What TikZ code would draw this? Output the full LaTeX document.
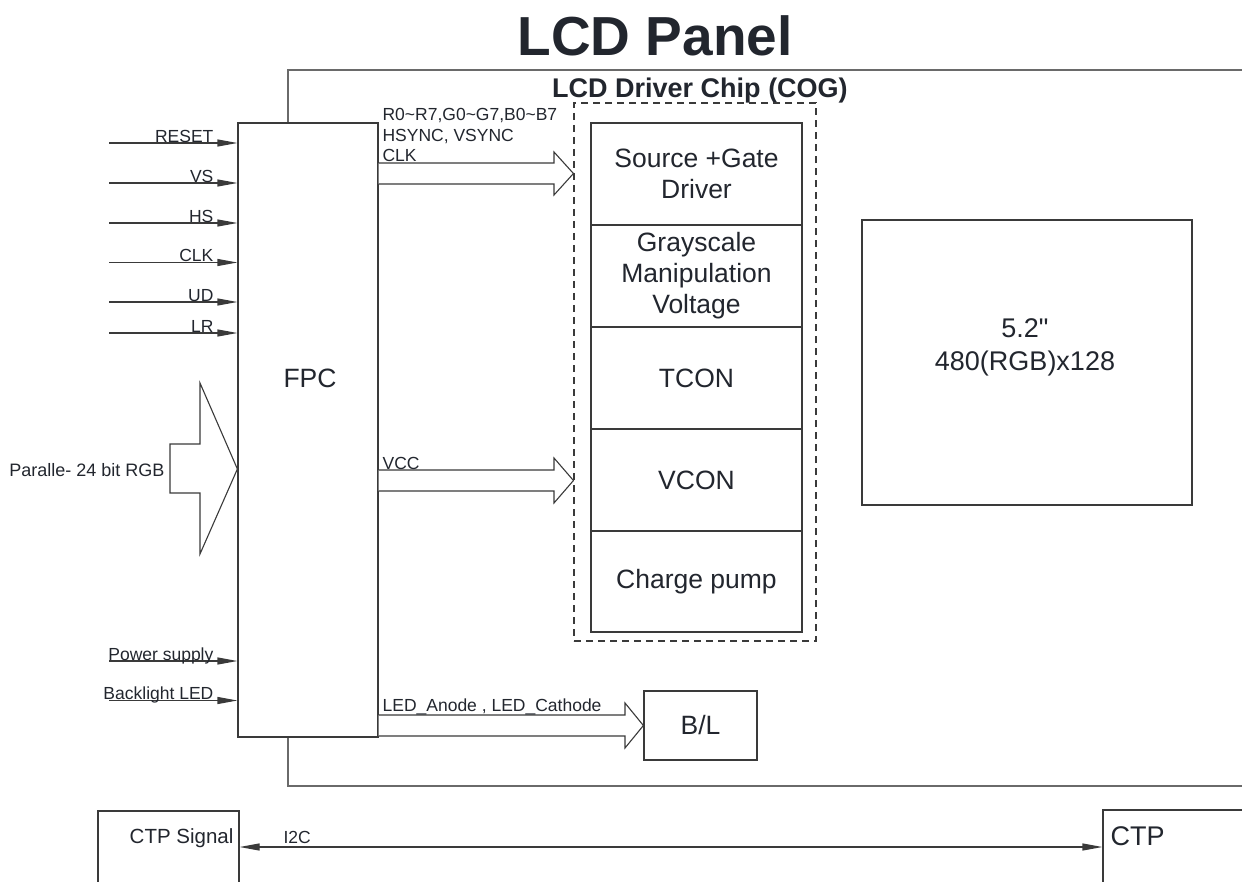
\documentclass[tikz,border=0pt]{standalone}
\usepackage{fontspec}
\setmainfont{Liberation Sans}[Ligatures=TeXOff]
\usetikzlibrary{arrows.meta}
\definecolor{txt}{HTML}{22262E}
\definecolor{ln}{HTML}{3A3A3A}
\definecolor{frm}{HTML}{6A6A6A}
\begin{document}
\begin{tikzpicture}[x=1bp,y=-1bp, line width=1.2bp, color=ln, text=txt,
  box/.style={draw=ln, fill=white, inner sep=0pt, rectangle},
  sig/.style={draw=ln, -{Triangle[length=20bp,width=7bp]}},
  sigboth/.style={draw=ln, {Triangle[length=20bp,width=7bp]}-{Triangle[length=20bp,width=7bp]}},
  lbl/.style={font=\fontsize{17.5bp}{21bp}\selectfont, inner sep=0pt, text=txt},
  big/.style={font=\fontsize{26.5bp}{31bp}\selectfont, inner sep=0pt, align=center, text=txt},
  hollow/.style={draw=ln, fill=white, line width=1.1bp, line join=miter}]
\useasboundingbox (0,0) rectangle (1242,882);
\clip (0,0) rectangle (1242,882);

% outer LCD panel frame (open to the right)
\draw[frm, line width=1.4bp] (1260,70) -- (288,70) -- (288,786) -- (1260,786);

% titles
\node[font=\fontsize{55bp}{60bp}\selectfont\bfseries, anchor=base, inner sep=0pt] (title) at (655,55) {LCD Panel};
\node[font=\fontsize{27bp}{31bp}\selectfont\bfseries, anchor=base, inner sep=0pt] (cogtitle) at (700,97) {LCD Driver Chip (COG)};

% FPC
\node[box, minimum width=140bp, minimum height=614bp] (fpc) at (308,430) {};
\node[big] (fpclbl) at (310,378) {FPC};

% input signals
\foreach \nm/\yy/\tx in {rst/143/RESET, vs/183/VS, hs/223/HS, clk/262.5/CLK, ud/302/UD, lr/333/LR, pwr/661/Power supply, bl/700.5/Backlight LED}{
  \coordinate (\nm) at (109,\yy);
  \draw[sig] (\nm) -- (fpc.west |- \nm);
  \node[lbl, anchor=base east] (\nm lbl) at (214,\yy-1) {\tx};
}

% parallel RGB hollow arrow
\draw[hollow] (200,383) -- (fpc.west |- 0,469) -- (200,554) -- (200,493) -- (170,493) -- (170,444) -- (200,444) -- cycle;
\node[lbl, font=\fontsize{18bp}{21bp}\selectfont, anchor=base east] (rgblbl) at (165,476) {Paralle- 24 bit RGB};

% driver chip dashed box
\node[draw=ln, dash pattern=on 7bp off 5bp, line width=1.1bp, minimum width=242bp, minimum height=538bp, inner sep=0pt] (cogbox) at (695,372) {};

% driver blocks
\node[box, big, minimum width=211bp, minimum height=102bp] (sgd) at (696.5,174) {Source +Gate\\Driver};
\node[box, big, minimum width=211bp, minimum height=102bp] (gmv) at (696.5,276) {Grayscale\\Manipulation\\Voltage};
\node[box, big, minimum width=211bp, minimum height=102bp] (tcon) at (696.5,378) {TCON};
\node[box, big, minimum width=211bp, minimum height=102bp] (vcon) at (696.5,480) {VCON};
\node[box, big, minimum width=211bp, minimum height=101bp] (cp) at (696.5,581.5) {Charge pump};

% hollow arrows from FPC
\draw[hollow] (fpc.east |- 0,163) -- (554,163) -- (554,152) -- (cogbox.west |- 0,173.5) -- (554,195) -- (554,184) -- (fpc.east |- 0,184);
\node[lbl, anchor=base west, align=left] (rgbsig) at (382,120) {R0\textasciitilde R7,G0\textasciitilde G7,B0\textasciitilde B7};
\node[lbl, anchor=base west] (syncsig) at (382,141) {HSYNC, VSYNC};
\node[lbl, anchor=base west] (clksig) at (382,161.5) {CLK};

\draw[hollow] (fpc.east |- 0,470) -- (554,470) -- (554,458) -- (cogbox.west |- 0,480.5) -- (554,503) -- (554,491) -- (fpc.east |- 0,491);
\node[lbl, anchor=base west] (vcclbl) at (382,469) {VCC};

% B/L
\node[box, big, minimum width=113bp, minimum height=69bp] (bl) at (700.5,725.5) {B/L};
\draw[hollow] (fpc.east |- 0,715) -- (625,715) -- (625,703) -- (bl.west) -- (625,748) -- (625,736) -- (fpc.east |- 0,736);
\node[lbl, anchor=base west] (ledlbl) at (382,711) {LED\_Anode , LED\_Cathode};

% panel
\node[box, minimum width=330bp, minimum height=285bp] (panel) at (1027,362.5) {};
\node[big, font=\fontsize{27bp}{33bp}\selectfont] (panellbl) at (1025,347) {5.2"\\480(RGB)x128};

% CTP
\node[box, minimum width=141bp, minimum height=100bp] (ctps) at (168.5,861) {};
\node[box, minimum width=160bp, minimum height=100bp] (ctp) at (1183,860) {};
\node[lbl, font=\fontsize{20.5bp}{24bp}\selectfont, anchor=base east] (ctpslbl) at (234,843) {CTP Signal};
\node[big, font=\fontsize{27bp}{31bp}\selectfont, anchor=base west] (ctplbl) at (1110,845) {CTP};
\draw[sigboth] (ctps.east |- 0,847) -- (ctp.west |- 0,847);
\node[lbl, anchor=base west] (i2clbl) at (283,843) {I2C};
\end{tikzpicture}
\end{document}
